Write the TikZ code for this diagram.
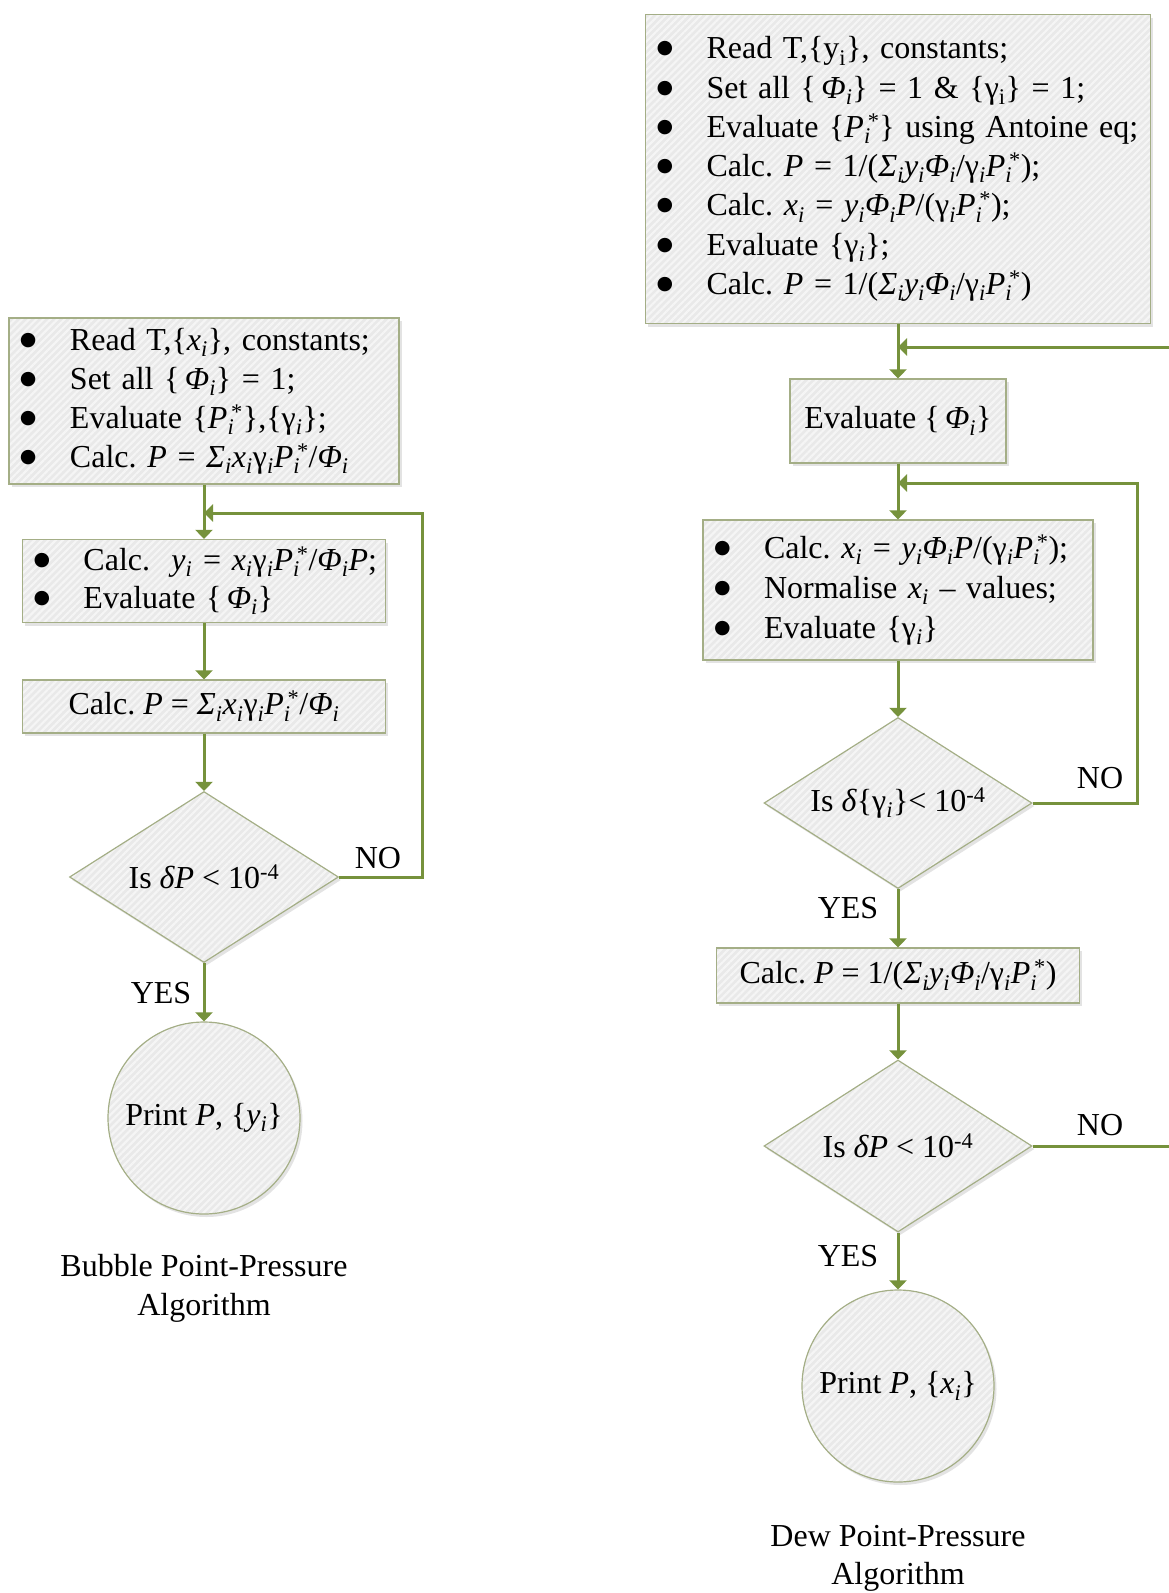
\documentclass[tikz,border=0pt]{standalone}
\usepackage{fontspec}
\setmainfont{Liberation Serif}
\newfontfamily\symfont{DejaVu Sans}
\usetikzlibrary{shapes.geometric,arrows.meta,shadows,patterns.meta}
\definecolor{arrowc}{HTML}{76923C}
\definecolor{edgec}{HTML}{A4AE86}
\definecolor{boxfill}{HTML}{E9E9E9}
\definecolor{stripec}{HTML}{F5F5F5}
\newcommand\mi[1]{\textit{#1}}
\newcommand\si{\textsubscript{\textit{i}}}
\newcommand\Pst{\textit{P}\rlap{\textsubscript{\textit{i}}}\textsuperscript{\,*}}
\newcommand\bul{\makebox[47pt][l]{\hspace{-3pt}\raisebox{5pt}{\symfont\fontsize{19}{19}\selectfont ●}}}
\newcommand\bline[1]{\mbox{\bul #1}}
\frenchspacing
\begin{document}
\begin{tikzpicture}[x=1pt,y=-1pt,
  every node/.style={font=\fontsize{32}{39}\selectfont},
  shapebase/.style={draw=edgec, line width=1.2pt,
    drop shadow={shadow xshift=2.5pt,shadow yshift=-3pt,opacity=.22},
    preaction={fill=boxfill},
    preaction={pattern={Lines[angle=45,distance=5pt,line width=2.2pt]},pattern color=stripec}},
  boxst/.style={shapebase, rectangle, inner ysep=0pt, inner xsep=14pt},
  dmd/.style={shapebase, diamond, aspect=1.57, inner sep=0pt},
  circ/.style={shapebase, circle, inner sep=0pt},
  arr/.style={draw=arrowc, line width=3pt, -{Triangle[width=17pt,length=9pt]}},
  ln/.style={draw=arrowc, line width=3pt},
  lbl/.style={inner sep=0pt}
]
\useasboundingbox (0,0) rectangle (1168,1593);

% ---------- Left: Bubble point ----------
\node[boxst, minimum width=390pt, minimum height=166pt, text width=362pt, align=left] (b1) at (204,401)
 {\bline{Read T,\{\mi{x}\si\}, constants;}\\
  \bline{Set all \{\,\mi{Φ}\si\} = 1;}\\
  \bline{Evaluate \{\Pst\},\{γ\si\};}\\
  \bline{Calc. \mi{P} = \mi{Σ}\si\mi{x}\si γ\si\Pst/\mi{Φ}\si}};

\node[boxst, minimum width=363pt, minimum height=83pt, text width=335pt, align=left, font=\fontsize{32}{38}\selectfont] (b2) at (204,581)
 {\bline{Calc.\ \ \mi{y}\si{} = \mi{x}\si γ\si\Pst/\mi{Φ}\si\mi{P};}\\
  \bline{Evaluate \{\,\mi{Φ}\si\}}};

\node[boxst, minimum width=363pt, minimum height=53pt] (b3) at (204,706.5)
 {Calc. \mi{P} = \mi{Σ}\si\mi{x}\si γ\si\Pst/\mi{Φ}\si};

\node[dmd, minimum width=269pt, minimum height=171pt] (d1) at (204,877)
 {Is \mi{δP} < 10\textsuperscript{-4}};

\node[circ, minimum size=192pt] (c1) at (204,1118) {Print \mi{P}, \{\mi{y}\si\}};

\node[align=center] (cap1) at (204,1288.5) {Bubble Point-Pressure\\Algorithm};

\node[lbl] (no1) at (378,858) {NO};
\node[lbl] (yes1) at (161,993) {YES};

\coordinate (j1) at (204,513);
\coordinate (k1) at (422,513);

\draw[arr] (b1.south) -- (b2.north);
\draw[arr] (b2.south) -- (b3.north);
\draw[arr] (b3.south) -- (d1.north);
\draw[arr] (d1.east) -| (k1) -- (j1);
\draw[arr] (d1.south) -- (c1.north);

% ---------- Right: Dew point ----------
\node[boxst, minimum width=505pt, minimum height=309pt, text width=477pt, align=left, font=\fontsize{32}{39.3}\selectfont] (r1) at (898,169)
 {\bline{Read T,\{y\textsubscript{i}\}, constants;}\\
  \bline{Set all \{\,\mi{Φ}\si\} = 1 \& \{γ\textsubscript{i}\} = 1;}\\
  \bline{Evaluate \{\Pst\} using Antoine eq;}\\
  \bline{Calc. \mi{P} = 1/(\mi{Σ}\si\mi{y}\si\mi{Φ}\si/γ\si\Pst);}\\
  \bline{Calc. \mi{x}\si{} = \mi{y}\si\mi{Φ}\si\mi{P}/(γ\si\Pst);}\\
  \bline{Evaluate \{γ\si\};}\\
  \bline{Calc. \mi{P} = 1/(\mi{Σ}\si\mi{y}\si\mi{Φ}\si/γ\si\Pst)}};

\node[boxst, minimum width=216pt, minimum height=84pt] (e1) at (898,421)
 {Evaluate \{\,\mi{Φ}\si\}};

\node[boxst, minimum width=390pt, minimum height=140pt, text width=362pt, align=left, font=\fontsize{32}{40}\selectfont] (x1) at (898,590)
 {\bline{Calc. \mi{x}\si{} = \mi{y}\si\mi{Φ}\si\mi{P}/(γ\si\Pst);}\\
  \bline{Normalise \mi{x}\si{} – values;}\\
  \bline{Evaluate \{γ\si\}}};

\node[dmd, minimum width=268pt, minimum height=171pt] (d2) at (898,803)
 {Is \mi{δ}\{γ\si\}< 10\textsuperscript{-4}};

\node[boxst, minimum width=363pt, minimum height=55pt] (p1) at (898,975.5)
 {Calc. \mi{P} = 1/(\mi{Σ}\si\mi{y}\si\mi{Φ}\si/γ\si\Pst)};

\node[dmd, minimum width=268pt, minimum height=172pt] (d3) at (898,1146)
 {Is \mi{δP} < 10\textsuperscript{-4}};

\node[circ, minimum size=192pt] (c2) at (898,1386) {Print \mi{P}, \{\mi{x}\si\}};

\node[align=center, font=\fontsize{32}{38}\selectfont] (cap2) at (898,1558) {Dew Point-Pressure\\Algorithm};

\node[lbl] (no2) at (1100,778) {NO};
\node[lbl] (yes2) at (848,908) {YES};
\node[lbl] (no3) at (1100,1125) {NO};
\node[lbl] (yes3) at (848,1256) {YES};

\coordinate (jr1) at (898,347);
\coordinate (er1) at (1172,347);
\coordinate (jr2) at (898,483);
\coordinate (kr2) at (1137,483);
\coordinate (er3) at (1172,1146);

\draw[arr] (r1.south) -- (e1.north);
\draw[arr] (er1) -- (jr1);
\draw[arr] (e1.south) -- (x1.north);
\draw[arr] (x1.south) -- (d2.north);
\draw[arr] (d2.east) -| (kr2) -- (jr2);
\draw[arr] (d2.south) -- (p1.north);
\draw[arr] (p1.south) -- (d3.north);
\draw[ln] (d3.east) -- (er3);
\draw[arr] (d3.south) -- (c2.north);
\end{tikzpicture}
\end{document}
